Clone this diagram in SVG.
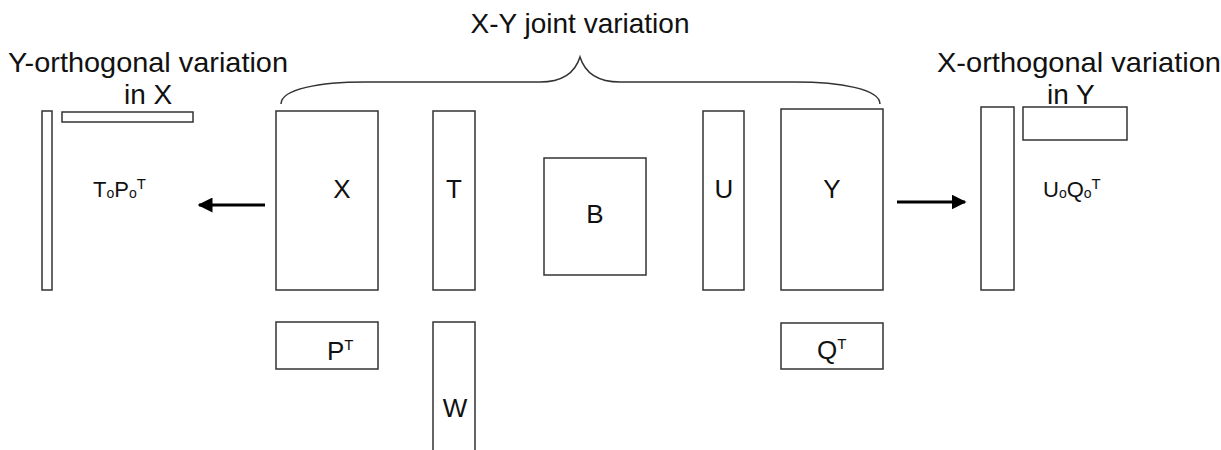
<svg xmlns="http://www.w3.org/2000/svg" width="1221" height="450" viewBox="0 0 1221 450">
  <defs>
    <style>
      .box { fill: #fff; stroke: #333; stroke-width: 1.5; }
      .lbl { font-family: "Liberation Sans", Arial, sans-serif; fill: #111; }
      .big { font-size: 28px; }
      .mid { font-size: 26px; text-anchor: middle; }
      .sm { font-size: 22px; }
      .conn { stroke: #000; stroke-width: 3; fill: none; }
      .brace { stroke: #333; stroke-width: 1.5; fill: none; }
    </style>
    <marker id="head" viewBox="0 0 10 10" refX="9" refY="5" markerWidth="5" markerHeight="5" orient="auto" markerUnits="strokeWidth">
      <path d="M0,0 L10,5 L0,10 Z" fill="#000"/>
    </marker>
  </defs>

  <!-- headings -->
  <g id="heading-joint">
    <text class="lbl" font-size="28" x="580" y="33" text-anchor="middle">X-Y joint variation</text>
    <path class="brace" d="M281,104 C281,89 320,82 365,82 L540,82 C562,82 575,73 580,57 C585,73 598,82 620,82 L795,82 C840,82 880,89 880,104"/>
  </g>
  <g id="heading-yorth">
    <text class="lbl big" x="8" y="72" textLength="280" lengthAdjust="spacingAndGlyphs">Y-orthogonal variation</text>
    <text class="lbl big" x="124" y="104">in X</text>
  </g>
  <g id="heading-xorth">
    <text class="lbl big" x="937" y="72" textLength="284" lengthAdjust="spacingAndGlyphs">X-orthogonal variation</text>
    <text class="lbl big" x="1047" y="104">in Y</text>
  </g>

  <!-- Y-orthogonal part of X -->
  <g id="node-to">
    <rect class="box" x="42" y="111" width="10" height="179"/>
  </g>
  <g id="node-po">
    <rect class="box" x="62" y="112" width="131" height="10"/>
  </g>
  <g id="node-topo">
    <text class="lbl sm" x="93" y="197">T<tspan font-size="14" dy="1">o</tspan><tspan dy="-1">P</tspan><tspan font-size="14" dy="1">o</tspan><tspan font-size="15" dy="-9">T</tspan></text>
  </g>

  <!-- joint part -->
  <g id="node-x">
    <rect class="box" x="276" y="111" width="102" height="179"/>
    <text class="lbl mid" x="342" y="198">X</text>
  </g>
  <g id="node-t">
    <rect class="box" x="433" y="111" width="42" height="179"/>
    <text class="lbl mid" x="454" y="198">T</text>
  </g>
  <g id="node-b">
    <rect class="box" x="544" y="158" width="102" height="117"/>
    <text class="lbl mid" x="595" y="223">B</text>
  </g>
  <g id="node-u">
    <rect class="box" x="703" y="111" width="41" height="179"/>
    <text class="lbl mid" x="724" y="198">U</text>
  </g>
  <g id="node-y">
    <rect class="box" x="781" y="109" width="102" height="181"/>
    <text class="lbl mid" x="832" y="198">Y</text>
  </g>
  <g id="node-pt">
    <rect class="box" x="276" y="322" width="102" height="47"/>
    <text class="lbl" font-size="26" x="327" y="360">P<tspan font-size="15" dy="-10">T</tspan></text>
  </g>
  <g id="node-w">
    <rect class="box" x="433" y="322" width="42" height="130"/>
    <text class="lbl mid" x="455" y="417">W</text>
  </g>
  <g id="node-qt">
    <rect class="box" x="781" y="323" width="102" height="46"/>
    <text class="lbl" font-size="26" x="817" y="359">Q<tspan font-size="15" dy="-10">T</tspan></text>
  </g>

  <!-- X-orthogonal part of Y -->
  <g id="node-uo">
    <rect class="box" x="981" y="107" width="33" height="183"/>
  </g>
  <g id="node-qo">
    <rect class="box" x="1023" y="107" width="104" height="33"/>
  </g>
  <g id="node-uoqo">
    <text class="lbl sm" x="1043" y="197">U<tspan font-size="14" dy="1">o</tspan><tspan dy="-1">Q</tspan><tspan font-size="14" dy="1">o</tspan><tspan font-size="15" dy="-9">T</tspan></text>
  </g>

  <!-- connectors -->
  <g id="connectors">
    <line class="conn" x1="265" y1="205" x2="199" y2="205" marker-end="url(#head)"/>
    <line class="conn" x1="897" y1="202" x2="965" y2="202" marker-end="url(#head)"/>
  </g>
</svg>
